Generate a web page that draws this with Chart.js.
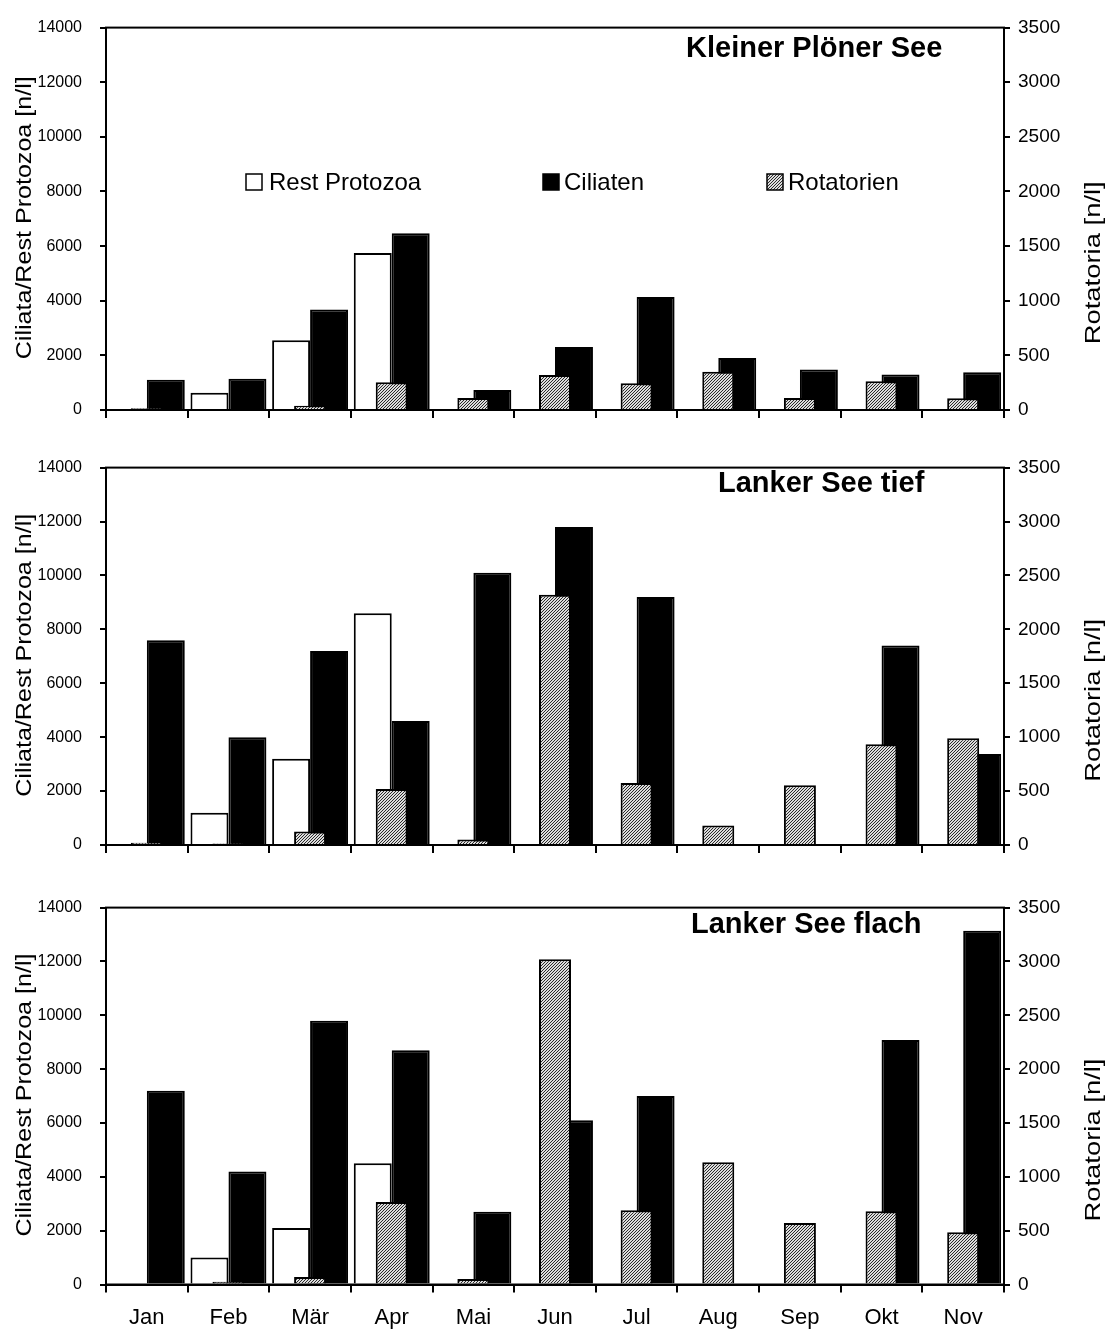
<!DOCTYPE html>
<html lang="de">
<head>
<meta charset="utf-8">
<title>Ciliaten, Rest Protozoa und Rotatorien</title>
<script src="https://cdn.jsdelivr.net/npm/chart.js@4.4.1/dist/chart.umd.min.js"></script>
<style>
  html, body { margin: 0; padding: 0; background: #fff; }
  #wrap { position: relative; width: 1111px; height: 1331px; }
  #wrap canvas { position: absolute; left: 0; }
</style>
</head>
<body>
<div id="wrap">
  <canvas id="c1" width="1111" height="440" style="top:0px"></canvas>
  <canvas id="c2" width="1111" height="440" style="top:440px"></canvas>
  <canvas id="c3" width="1111" height="451" style="top:880px"></canvas>
</div>
<script>
// Months sampled
const months = ['Jan', 'Feb', 'Mär', 'Apr', 'Mai', 'Jun', 'Jul', 'Aug', 'Sep', 'Okt', 'Nov'];

// Axis tick values
const leftTicks = [0, 2000, 4000, 6000, 8000, 10000, 12000, 14000];
const rightTicks = [0, 500, 1000, 1500, 2000, 2500, 3000, 3500];

// Kleiner Plöner See [n/l]
const kpsRest = [0, 630, 2550, 5750, 0, 0, 0, 0, 0, 0, 0];
const kpsCiliaten = [1110, 1140, 3680, 6470, 730, 2310, 4140, 1900, 1480, 1300, 1380];
const kpsRotatorien = [15, 10, 40, 255, 110, 320, 245, 350, 110, 263, 108];

// Lanker See tief [n/l]
const lstRest = [0, 1200, 3200, 8600, 0, 0, 0, 0, 0, 0, 0];
const lstCiliaten = [7600, 4000, 7200, 4600, 10100, 11800, 9200, 0, 0, 7400, 3380];
const lstRotatorien = [20, 15, 125, 520, 50, 2320, 575, 180, 555, 935, 990];

// Lanker See flach [n/l]
const lsfRest = [0, 1000, 2100, 4500, 0, 0, 0, 0, 0, 0, 0];
const lsfCiliaten = [7200, 4200, 9800, 8700, 2700, 6100, 7000, 0, 0, 9080, 13140];
const lsfRotatorien = [10, 25, 70, 765, 50, 3020, 690, 1135, 570, 680, 485];

const FONT = "'Liberation Sans', Arial, Helvetica, sans-serif";
Chart.defaults.font.family = FONT;
Chart.defaults.color = '#000';

// fine diagonal hatch used for the rotifer bars
function makeHatch() {
  const tile = document.createElement('canvas');
  tile.width = 3; tile.height = 3;
  const g = tile.getContext('2d');
  g.fillStyle = '#dcdcdc';
  g.fillRect(0, 0, 3, 3);
  g.fillStyle = '#2a2a2a';
  for (let i = 0; i < 3; i++) g.fillRect(i, 2 - i, 1, 1);
  return g.createPattern(tile, 'repeat');
}
const hatch = makeHatch();

function vText(ctx, text, x, cy, font, len) {
  ctx.save();
  ctx.translate(x, cy);
  ctx.rotate(-Math.PI / 2);
  ctx.font = font;
  const w = ctx.measureText(text).width;
  ctx.scale(len / w, 1);
  ctx.textAlign = 'center';
  ctx.textBaseline = 'alphabetic';
  ctx.fillStyle = '#000';
  ctx.fillText(text, 0, 0);
  ctx.restore();
}

// frame, panel title, axis titles and (optionally) the legend
const panelDecor = {
  id: 'panelDecor',
  afterDatasetsDraw(chart) {
    const { ctx, chartArea: a } = chart;
    ctx.save();
    ctx.strokeStyle = '#000';
    ctx.lineWidth = 2;
    ctx.strokeRect(a.left, a.top, a.right - a.left, a.bottom - a.top);
    ctx.restore();
  },
  afterDraw(chart, args, opts) {
    const { ctx, chartArea: a } = chart;
    const cy = (a.top + a.bottom) / 2;
    ctx.save();
    ctx.fillStyle = '#000';
    ctx.font = 'bold 29px ' + FONT;
    ctx.textAlign = 'left';
    ctx.textBaseline = 'alphabetic';
    ctx.fillText(opts.title, opts.titleX, opts.titleY);
    ctx.restore();

    vText(ctx, 'Ciliata/Rest Protozoa [n/l]', 31, cy - 1, '22px ' + FONT, 283);
    vText(ctx, 'Rotatoria [n/l]', 1100, cy + 44, '22px ' + FONT, 163);

    if (opts.legend) {
      const items = [
        { text: 'Rest Protozoa', fill: '#fff', box: 246, tx: 269 },
        { text: 'Ciliaten', fill: '#000', box: 543, tx: 564 },
        { text: 'Rotatorien', fill: hatch, box: 767, tx: 788 }
      ];
      ctx.save();
      ctx.font = '24px ' + FONT;
      ctx.textBaseline = 'alphabetic';
      ctx.textAlign = 'left';
      items.forEach(it => {
        ctx.fillStyle = it.fill;
        ctx.fillRect(it.box, 174, 16, 16);
        ctx.strokeStyle = '#000';
        ctx.lineWidth = 1.5;
        ctx.strokeRect(it.box, 174, 16, 16);
        ctx.fillStyle = '#000';
        ctx.fillText(it.text, it.tx, 190);
      });
      ctx.restore();
    }
  }
};

function makePanel(id, rest, cil, rot, p) {
  return new Chart(document.getElementById(id), {
    type: 'bar',
    data: {
      labels: months,
      datasets: [
        { label: 'Rest Protozoa', data: rest, backgroundColor: '#fff', borderColor: '#000',
          borderWidth: 2, yAxisID: 'y', order: 1 },
        { label: 'Ciliaten', data: cil, backgroundColor: '#000', borderColor: '#000',
          borderWidth: 2, yAxisID: 'y', order: 1 },
        // centred on the month, drawn in front of the protozoa pair
        { label: 'Rotatorien', data: rot, backgroundColor: hatch, borderColor: '#000',
          borderWidth: 2, yAxisID: 'y1', order: 0, grouped: false,
          categoryPercentage: 0.392, barPercentage: 1 }
      ]
    },
    options: {
      responsive: false,
      animation: false,
      devicePixelRatio: 1,
      datasets: { bar: { categoryPercentage: 0.93, barPercentage: 1 } },
      layout: { padding: { top: p.padTop, left: 0, right: 0, bottom: 0 } },
      plugins: {
        legend: { display: false },
        tooltip: { enabled: false },
        panelDecor: { title: p.title, titleX: p.titleX, titleY: p.titleY, legend: p.legend }
      },
      scales: {
        x: {
          type: 'category',
          offset: true,
          grid: { offset: true, drawOnChartArea: false, drawTicks: true, tickLength: 8, color: '#000', lineWidth: 2 },
          border: { display: true, color: '#000', width: 2 },
          ticks: { display: p.showMonths, font: { size: 22 }, color: '#000', padding: 12, maxRotation: 0, autoSkip: false },
          afterFit: s => { s.height = p.xHeight; }
        },
        y: {
          position: 'left',
          min: 0, max: 14000,
          afterBuildTicks: s => { s.ticks = leftTicks.map(v => ({ value: v })); },
          ticks: { font: { size: 16 }, color: '#000', padding: 18, callback: v => String(v) },
          grid: { drawOnChartArea: false, drawTicks: true, tickLength: 6, color: '#000', lineWidth: 2 },
          border: { display: true, color: '#000', width: 2 },
          afterFit: s => { s.width = 106; }
        },
        y1: {
          position: 'right',
          min: 0, max: 3500,
          afterBuildTicks: s => { s.ticks = rightTicks.map(v => ({ value: v })); },
          ticks: { font: { size: 19 }, color: '#000', padding: 8, callback: v => String(v) },
          grid: { drawOnChartArea: false, drawTicks: true, tickLength: 6, color: '#000', lineWidth: 2 },
          border: { display: true, color: '#000', width: 2 },
          afterFit: s => { s.width = 107; }
        }
      }
    },
    plugins: [panelDecor]
  });
}

makePanel('c1', kpsRest, kpsCiliaten, kpsRotatorien,
  { padTop: 20, xHeight: 30, showMonths: false, legend: true,
    title: 'Kleiner Plöner See', titleX: 686, titleY: 57 });
makePanel('c2', lstRest, lstCiliaten, lstRotatorien,
  { padTop: 13.5, xHeight: 35, showMonths: false, legend: false,
    title: 'Lanker See tief', titleX: 718, titleY: 52 });
makePanel('c3', lsfRest, lsfCiliaten, lsfRotatorien,
  { padTop: 11, xHeight: 46.5, showMonths: true, legend: false,
    title: 'Lanker See flach', titleX: 691, titleY: 53 });
</script>
</body>
</html>
